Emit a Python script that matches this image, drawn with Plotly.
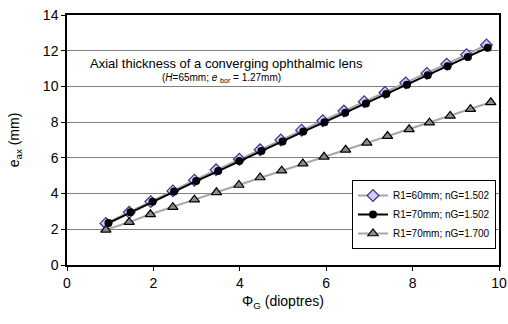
import plotly.graph_objects as go

# Series 1: R1=60mm; nG=1.502
phi_60_1502 = [0.90, 1.44, 1.94, 2.45, 2.95, 3.45, 3.99, 4.47, 4.95, 5.43, 5.92, 6.41, 6.88, 7.36, 7.84, 8.33, 8.79, 9.25, 9.71]
eax_60_1502 = [2.33, 2.95, 3.55, 4.15, 4.75, 5.33, 5.92, 6.45, 7.00, 7.55, 8.08, 8.62, 9.14, 9.66, 10.20, 10.73, 11.25, 11.78, 12.32]
# Series 2: R1=70mm; nG=1.502
phi_70_1502 = [0.96, 1.47, 1.98, 2.48, 2.99, 3.50, 3.99, 4.50, 4.99, 5.47, 5.96, 6.44, 6.92, 7.39, 7.87, 8.35, 8.81, 9.28, 9.74]
eax_70_1502 = [2.35, 2.95, 3.54, 4.12, 4.70, 5.26, 5.82, 6.38, 6.92, 7.47, 8.00, 8.53, 9.05, 9.58, 10.10, 10.62, 11.13, 11.65, 12.17]
# Series 3: R1=70mm; nG=1.700
phi_70_1700 = [0.90, 1.44, 1.93, 2.45, 2.95, 3.46, 3.98, 4.47, 4.97, 5.46, 5.95, 6.45, 6.94, 7.42, 7.92, 8.39, 8.87, 9.34, 9.81]
eax_70_1700 = [1.97, 2.40, 2.84, 3.24, 3.66, 4.07, 4.48, 4.90, 5.28, 5.68, 6.06, 6.45, 6.84, 7.22, 7.60, 7.97, 8.35, 8.73, 9.11]

names = ["R1=60mm; nG=1.502", "R1=70mm; nG=1.502", "R1=70mm; nG=1.700"]
x_ticks = [0, 2, 4, 6, 8, 10]
y_ticks = [0, 2, 4, 6, 8, 10, 12, 14]

FONT = "Liberation Sans, Arial, sans-serif"
L, R, T, B = 67, 9, 15, 59
PW, PH = 508 - L - R, 324 - T - B

fig = go.Figure()
fig.add_trace(go.Scatter(
    x=phi_60_1502, y=eax_60_1502, mode="lines+markers", name=names[0],
    line=dict(color="#a6a6a6", width=2),
    marker=dict(symbol="diamond", size=9, color="#d0d0ec", line=dict(color="#33339a", width=1.2)),
))
fig.add_trace(go.Scatter(
    x=phi_70_1502, y=eax_70_1502, mode="lines+markers", name=names[1],
    line=dict(color="#000000", width=2),
    marker=dict(symbol="circle", size=8, color="#000000"),
))
fig.add_trace(go.Scatter(
    x=phi_70_1700, y=eax_70_1700, mode="lines+markers", name=names[2],
    line=dict(color="#a6a6a6", width=2),
    marker=dict(symbol="triangle-up", size=9, color="#8c8c8c", line=dict(color="#000000", width=1.2)),
))

fig.add_annotation(
    x=(88 - L) / PW, y=(265 - 54) / PH, xref="paper", yref="paper",
    text="Axial thickness of a converging ophthalmic lens",
    showarrow=False, xanchor="left", yanchor="top", font=dict(family=FONT, size=13, color="#000"),
)
fig.add_annotation(
    x=(160 - L) / PW, y=(265 - 70) / PH, xref="paper", yref="paper",
    text="(<i>H</i>=65mm; <i>e</i> <sub>bor</sub> = 1.27mm)",
    showarrow=False, xanchor="left", yanchor="top", font=dict(family=FONT, size=10, color="#000"),
)

fig.update_layout(
    width=508, height=324,
    margin=dict(l=L, r=R, t=T, b=B, autoexpand=False),
    paper_bgcolor="white", plot_bgcolor="white",
    font=dict(family=FONT, size=14, color="#000"),
    showlegend=True,
    legend=dict(
        x=(496 - L) / PW, y=(265 - 180) / PH, xanchor="right", yanchor="top",
        bgcolor="white", bordercolor="black", borderwidth=1,
        font=dict(family=FONT, size=10, color="#000"),
        itemwidth=30, tracegroupgap=0,
    ),
)
fig.update_xaxes(
    range=[0, 10], tickvals=x_ticks, ticktext=[str(v) for v in x_ticks],
    showgrid=False, zeroline=False, automargin=False,
    showline=True, linecolor="black", linewidth=1.5, mirror=True,
    ticks="outside", ticklen=4, tickcolor="black",
    tickfont=dict(family=FONT, size=14),
    title=dict(text="Φ<sub>G</sub> (dioptres)", font=dict(family=FONT, size=14), standoff=7),
)
fig.update_yaxes(
    range=[0, 14], tickvals=y_ticks, ticktext=[str(v) for v in y_ticks],
    showgrid=True, gridcolor="#808080", gridwidth=1.2, zeroline=False, automargin=False,
    showline=True, linecolor="black", linewidth=1.5, mirror=True,
    ticks="outside", ticklen=4, tickcolor="black",
    tickfont=dict(family=FONT, size=14),
    title=dict(text="e<sub>ax</sub> (mm)", font=dict(family=FONT, size=14), standoff=20),
)

fig.write_html("out.html")
